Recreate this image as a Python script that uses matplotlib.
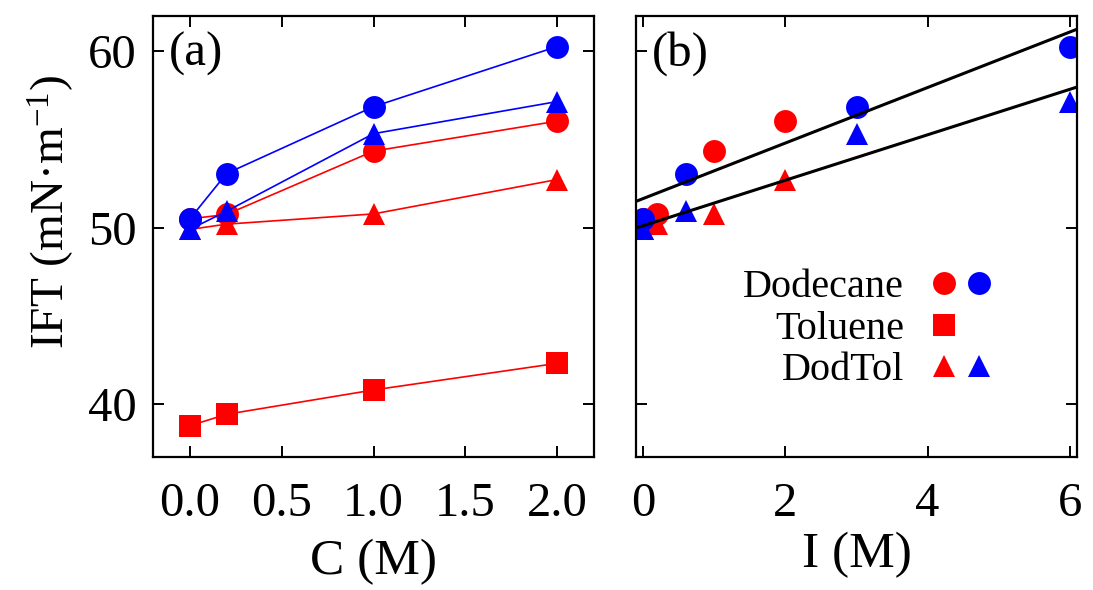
import numpy as np
import matplotlib
matplotlib.use("Agg")
import matplotlib.pyplot as plt
from matplotlib.lines import Line2D
from matplotlib.legend_handler import HandlerTuple

plt.rcParams['font.family'] = ['Liberation Serif', 'DejaVu Serif']
plt.rcParams['mathtext.fontset'] = 'custom'
plt.rcParams['mathtext.rm'] = 'Liberation Serif'
plt.rcParams['mathtext.it'] = 'Liberation Serif:italic'
plt.rcParams['mathtext.default'] = 'rm'

# ---- data ----
C = [0.0, 0.2, 1.0, 2.0]
I_red = [0.0, 0.2, 1.0, 2.0]
I_blue = [0.0, 0.6, 3.0, 6.0]
dod_red = [50.50, 50.75, 54.34, 56.04]
dod_blue = [50.49, 53.07, 56.86, 60.27]
tol_red = [38.77, 39.42, 40.80, 42.31]
dt_red = [49.90, 50.20, 50.78, 52.73]
dt_blue = [49.90, 50.93, 55.33, 57.15]
fit_slopes = [1.574, 1.289]
fit_intercepts = [51.65, 50.11]

c_xticks = [0.0, 0.5, 1.0, 1.5, 2.0]
c_xticklabels = ['0.0', '0.5', '1.0', '1.5', '2.0']
i_xticks = [0, 2, 4, 6]
y_ticks = [40, 50, 60]

RED = '#ff0000'
BLUE = '#0000ff'
MS = 16.5
TICK_FS = 35
LAB_FS = 37

fig = plt.figure(figsize=(10.93, 5.90), dpi=100)
axL = fig.add_axes([153/1093, 1-457/590, 441/1093, 441/590])
axR = fig.add_axes([636/1093, 1-457/590, 441/1093, 441/590])

for ax in (axL, axR):
    for s in ax.spines.values():
        s.set_linewidth(1.6)
    ax.tick_params(direction='in', length=8, width=1.4, top=True, right=True,
                   labelsize=TICK_FS)
    ax.tick_params(axis='y', pad=12)
    ax.tick_params(axis='x', pad=18)
    ax.set_ylim(37, 62)
    ax.set_yticks(y_ticks)

# ---- panel (a) ----
kw = dict(lw=1.2, ms=MS, mew=0)
axL.plot(C, tol_red, color=RED, marker='s', **kw)
axL.plot(C, dt_red, color=RED, marker='^', **kw)
axL.plot(C, dod_red, color=RED, marker='o', **kw)
axL.plot(C, dt_blue, color=BLUE, marker='^', **kw)
axL.plot(C, dod_blue, color=BLUE, marker='o', **kw)
axL.set_xlim(-0.2, 2.2)
axL.set_xticks(c_xticks)
axL.set_xticklabels(c_xticklabels)
axL.set_xlabel('C (M)', fontsize=LAB_FS, labelpad=9)
axL.set_ylabel('IFT (mN\u00b7m$^{-1}$)', fontsize=34)
axL.yaxis.set_label_coords(-0.175, 0.555)
axL.text(0.035, 0.915, '(a)', transform=axL.transAxes, fontsize=TICK_FS,
         ha='left', va='center')

# ---- panel (b) ----
pk = dict(ls='none', ms=MS, mew=0)
axR.plot(I_red, dt_red, color=RED, marker='^', **pk)
axR.plot(I_red, dod_red, color=RED, marker='o', **pk)
axR.plot(I_blue, dt_blue, color=BLUE, marker='^', **pk)
axR.plot(I_blue, dod_blue, color=BLUE, marker='o', **pk)
axR.set_xlim(-0.1, 6.1)
xs = np.array(axR.get_xlim())
for m, b in zip(fit_slopes, fit_intercepts):
    axR.plot(xs, m*xs + b, color='black', lw=2.2, zorder=5)
axR.set_xlim(-0.1, 6.1)
axR.set_xticks(i_xticks)
axR.tick_params(labelleft=False)
axR.set_xlabel('I (M)', fontsize=LAB_FS, labelpad=4)
axR.text(0.035, 0.915, '(b)', transform=axR.transAxes, fontsize=TICK_FS,
         ha='left', va='center')

# legend
h_dod = (Line2D([], [], ls='none', marker='o', color=RED, ms=MS, mew=0),
         Line2D([], [], ls='none', marker='o', color=BLUE, ms=MS, mew=0))
h_tol = (Line2D([], [], ls='none', marker='s', color=RED, ms=MS, mew=0),
         Line2D([], [], ls='none', marker='s', color='none', ms=MS, mew=0))
h_dt = (Line2D([], [], ls='none', marker='^', color=RED, ms=MS, mew=0),
        Line2D([], [], ls='none', marker='^', color=BLUE, ms=MS, mew=0))
axR.legend([h_dod, h_tol, h_dt], ['Dodecane', 'Toluene', 'DodTol'],
           handler_map={tuple: HandlerTuple(ndivide=2, pad=0)},
           loc='center', bbox_to_anchor=(0.530, 0.29), frameon=False,
           fontsize=29, markerfirst=False, handlelength=1.75, handletextpad=0.55,
           labelspacing=0.1, borderpad=0.1)

fig.savefig('out.png', dpi=100)
